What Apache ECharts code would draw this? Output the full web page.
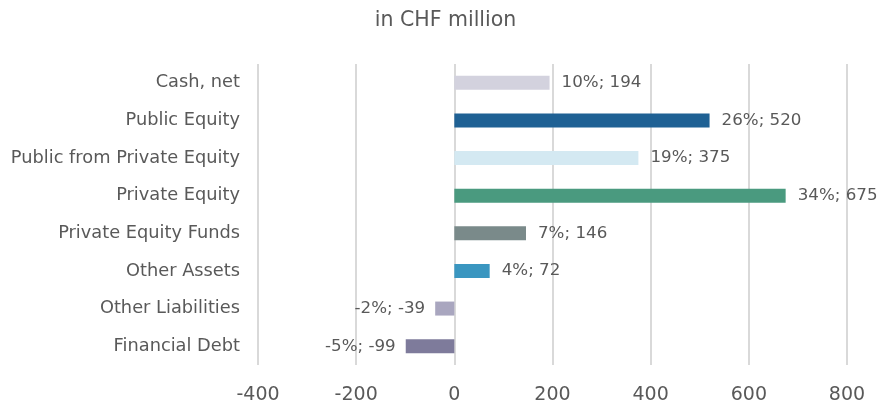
<!DOCTYPE html>
<html><head><meta charset="utf-8">
<script src="https://cdn.jsdelivr.net/npm/echarts@6/dist/echarts.min.js"></script>
<style>html,body{margin:0;padding:0;background:#fff}#c{width:891px;height:405px}</style>
</head><body><div id="c"></div>
<script>
const categories = ["Cash, net","Public Equity","Public from Private Equity","Private Equity","Private Equity Funds","Other Assets","Other Liabilities","Financial Debt"];
const values = [194,520,375,675,146,72,-39,-99];
const percents = ["10%","26%","19%","34%","7%","4%","-2%","-5%"];
const colors = ["#d3d2de","#1f6194","#d4e9f2","#4a9a7f","#7a8a8a","#3a96c0","#a9a6bf","#7e7b9b"];
const xTicks = [-400,-200,0,200,400,600,800];

const chart = echarts.init(document.getElementById('c'));
const font = "DejaVu Sans, sans-serif";
chart.setOption({
  animation:false,
  title:{text:"in CHF million",left:'center',top:5,textStyle:{fontFamily:font,fontSize:20.5,fontWeight:'normal',color:'#595959'}},
  grid:{left:258,right:44,top:64,height:302},
  xAxis:{type:'value',min:xTicks[0],max:xTicks[xTicks.length-1],interval:200,
    axisLine:{show:false},axisTick:{show:false},
    axisLabel:{fontFamily:font,fontSize:19,color:'#595959',margin:21},
    splitLine:{lineStyle:{color:'#d9d9d9',width:2}}},
  yAxis:{type:'category',data:categories,inverse:true,
    axisLine:{show:false},axisTick:{show:false},
    axisLabel:{fontFamily:font,fontSize:17.8,color:'#595959',margin:18}},
  series:[{type:'bar',barWidth:14,
    data:values.map((v,i)=>({value:v,itemStyle:{color:colors[i]},
      label:{show:true,position:v>=0?'right':'left',distance:v>=0?12:10,
        formatter:percents[i]+'; '+v,fontFamily:font,fontSize:16.7,color:'#595959'}}))
  }]
});
</script></body></html>
